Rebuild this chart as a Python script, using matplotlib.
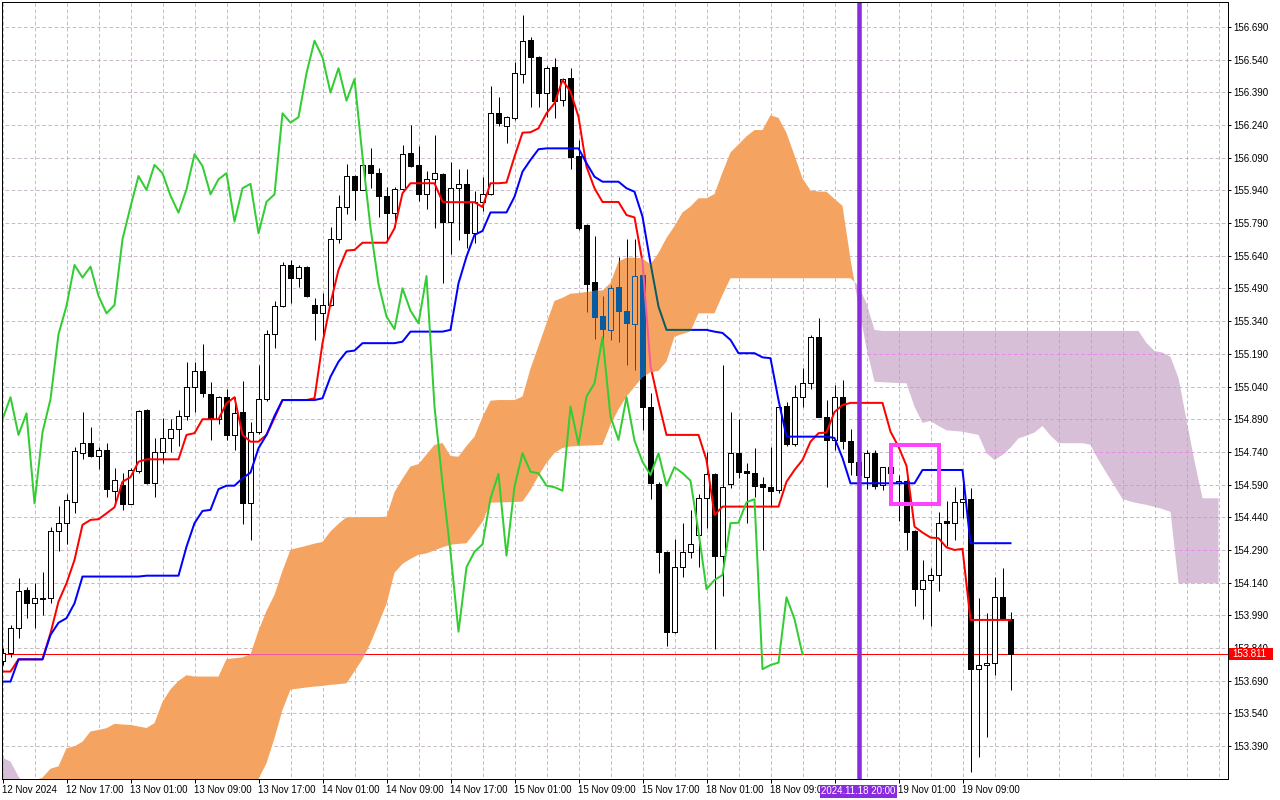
import numpy as np
import matplotlib
matplotlib.use("Agg")
import matplotlib.pyplot as plt
from matplotlib.path import Path
from matplotlib.patches import PathPatch, Rectangle
from matplotlib.collections import LineCollection, PolyCollection
from matplotlib.transforms import blended_transform_factory

plt.rcParams['font.family'] = ['Liberation Sans', 'DejaVu Sans']
plt.rcParams['lines.scale_dashes'] = False

# ---------------- data (H1, 12 Nov 09:00 .. 19 Nov 15:00) ----------------
open_ = [153.780, 153.816, 153.934, 154.107, 154.045, 154.066, 154.068, 154.377, 154.413, 154.512,
         154.737, 154.780, 154.723, 154.749, 154.562, 154.588, 154.501, 154.654, 154.933, 154.599,
         154.738, 154.803, 154.844, 154.906, 155.039, 155.111, 155.005, 154.890, 154.991, 154.818,
         154.922, 154.504, 154.830, 154.982, 155.280, 155.410, 155.598, 155.540, 155.590, 155.414,
         155.376, 155.414, 155.716, 155.865, 156.006, 155.942, 156.057, 156.019, 155.916, 155.835,
         155.945, 156.110, 156.057, 155.922, 155.991, 156.016, 155.797, 155.950, 155.970, 155.743,
         155.888, 155.922, 156.294, 156.237, 156.271, 156.474, 156.630, 156.551, 156.389, 156.505,
         156.355, 156.455, 156.098, 155.781, 155.519, 155.364, 155.300, 155.496, 155.387, 155.326,
         155.552, 154.948, 154.593, 154.280, 153.915, 154.211, 154.282, 154.359, 154.527, 154.639,
         154.264, 154.592, 154.734, 154.653, 154.642, 154.593, 154.578, 154.565, 154.951, 154.775,
         154.994, 155.055, 155.266, 154.899, 154.795, 154.991, 154.790, 154.695, 154.624, 154.734,
         154.588, 154.670, 154.599, 154.608, 154.377, 154.110, 154.152, 154.175, 154.423, 154.415,
         154.509, 154.523, 153.743, 153.762, 153.770, 154.073, 153.972]
high_ = [153.840, 153.945, 154.160, 154.122, 154.137, 154.190, 154.397, 154.492, 154.547, 154.764,
         154.922, 154.856, 154.764, 154.780, 154.665, 154.645, 154.665, 154.933, 154.939, 154.803,
         154.897, 154.890, 154.933, 155.153, 155.154, 155.235, 155.062, 154.997, 155.027, 154.991,
         155.066, 154.879, 155.139, 155.300, 155.433, 155.613, 155.621, 155.598, 155.595, 155.445,
         155.471, 155.771, 155.919, 156.061, 156.010, 156.060, 156.133, 156.042, 155.957, 155.957,
         156.149, 156.240, 156.144, 156.031, 156.194, 156.020, 156.072, 156.037, 156.037, 155.939,
         156.003, 156.419, 156.367, 156.280, 156.531, 156.745, 156.643, 156.555, 156.511, 156.546,
         156.455, 156.503, 156.171, 155.785, 155.731, 155.456, 155.506, 155.636, 155.716, 155.716,
         155.590, 155.009, 154.604, 154.285, 154.339, 154.413, 154.474, 154.547, 154.741, 154.645,
         155.139, 154.922, 154.891, 154.688, 154.757, 154.624, 154.764, 154.971, 154.971, 155.047,
         155.124, 155.277, 155.353, 154.978, 155.047, 155.070, 154.844, 154.720, 154.749, 154.749,
         154.670, 154.700, 154.634, 154.614, 154.380, 154.244, 154.206, 154.466, 154.516, 154.581,
         154.626, 154.573, 154.068, 153.999, 154.167, 154.206, 154.004]
low_ = [153.760, 153.800, 153.885, 153.977, 153.931, 153.992, 154.048, 154.287, 154.318, 154.458,
        154.706, 154.718, 154.660, 154.535, 154.504, 154.474, 154.501, 154.645, 154.593, 154.535,
        154.688, 154.741, 154.769, 154.887, 154.923, 154.994, 154.795, 154.868, 154.795, 154.749,
        154.409, 154.336, 154.820, 154.975, 155.218, 155.407, 155.425, 155.498, 155.450, 155.254,
        155.266, 155.410, 155.700, 155.832, 155.804, 155.940, 155.950, 155.817, 155.713, 155.774,
        155.940, 156.049, 155.892, 155.855, 155.769, 155.517, 155.648, 155.713, 155.675, 155.697,
        155.847, 155.920, 156.236, 156.156, 156.263, 156.432, 156.324, 156.322, 156.278, 156.271,
        156.328, 156.037, 155.759, 155.384, 155.257, 155.211, 155.254, 155.246, 155.139, 155.116,
        154.841, 154.524, 154.183, 153.851, 153.908, 154.168, 154.252, 154.213, 154.390, 153.834,
        154.080, 154.576, 154.619, 154.413, 154.535, 154.290, 154.489, 154.550, 154.769, 154.769,
        154.948, 155.027, 154.900, 154.578, 154.749, 154.752, 154.634, 154.600, 154.569, 154.569,
        154.565, 154.625, 154.424, 154.290, 154.033, 153.972, 153.941, 154.103, 154.308, 154.336,
        154.436, 153.273, 153.341, 153.433, 153.716, 153.970, 153.648]
close_ = [153.817, 153.930, 154.102, 154.045, 154.068, 154.070, 154.377, 154.413, 154.520, 154.744,
          154.783, 154.723, 154.749, 154.570, 154.611, 154.501, 154.657, 154.928, 154.599, 154.738,
          154.803, 154.844, 154.906, 155.037, 155.111, 155.009, 154.890, 154.991, 154.818, 154.917,
          154.504, 154.830, 154.982, 155.280, 155.410, 155.598, 155.540, 155.590, 155.456, 155.376,
          155.414, 155.716, 155.865, 156.006, 155.942, 156.057, 156.019, 155.916, 155.838, 155.945,
          156.106, 156.052, 155.922, 155.991, 156.019, 155.797, 155.950, 155.970, 155.743, 155.888,
          155.922, 156.294, 156.251, 156.276, 156.478, 156.627, 156.551, 156.389, 156.501, 156.352,
          156.451, 156.095, 155.769, 155.511, 155.361, 155.303, 155.491, 155.388, 155.330, 155.547,
          154.948, 154.596, 154.280, 153.915, 154.211, 154.282, 154.316, 154.527, 154.639, 154.264,
          154.581, 154.734, 154.649, 154.642, 154.585, 154.578, 154.562, 154.948, 154.775, 154.994,
          155.055, 155.266, 154.902, 154.795, 154.991, 154.792, 154.695, 154.634, 154.734, 154.585,
          154.670, 154.643, 154.608, 154.374, 154.110, 154.152, 154.175, 154.413, 154.415, 154.509,
          154.523, 153.743, 153.762, 153.773, 154.073, 153.973, 153.811]

tenkan = [153.732, 153.732, 153.788, 153.788, 153.788, 153.788, 153.908, 154.053, 154.137, 154.244,
          154.405, 154.428, 154.431, 154.458, 154.486, 154.603, 154.624, 154.695, 154.706, 154.706,
          154.706, 154.706, 154.706, 154.818, 154.826, 154.890, 154.890, 154.890, 154.963, 154.991,
          154.818, 154.787, 154.787, 154.818, 154.896, 154.978, 154.978, 154.978, 154.978, 154.986,
          155.239, 155.422, 155.575, 155.664, 155.667, 155.700, 155.700, 155.700, 155.700, 155.766,
          155.927, 155.973, 155.973, 155.973, 155.973, 155.888, 155.886, 155.886, 155.886, 155.886,
          155.864, 155.973, 155.973, 155.976, 156.095, 156.205, 156.207, 156.225, 156.294, 156.340,
          156.447, 156.393, 156.278, 156.049, 155.950, 155.887, 155.887, 155.887, 155.827, 155.816,
          155.612, 155.134, 154.969, 154.818, 154.818, 154.818, 154.818, 154.818, 154.703, 154.450,
          154.489, 154.489, 154.489, 154.489, 154.489, 154.489, 154.489, 154.489, 154.603, 154.657,
          154.703, 154.787, 154.826, 154.829, 154.923, 154.955, 154.965, 154.965, 154.965, 154.965,
          154.965, 154.833, 154.764, 154.676, 154.397, 154.370, 154.347, 154.344, 154.302, 154.290,
          154.295, 153.969, 153.969, 153.969, 153.969, 153.969, 153.969]
kijun = [153.686, 153.686, 153.788, 153.788, 153.788, 153.788, 153.900, 153.956, 153.977, 154.045,
         154.168, 154.168, 154.168, 154.168, 154.168, 154.168, 154.168, 154.168, 154.172, 154.172,
         154.172, 154.172, 154.172, 154.305, 154.413, 154.469, 154.474, 154.569, 154.585, 154.585,
         154.619, 154.645, 154.757, 154.818, 154.905, 154.978, 154.978, 154.978, 154.978, 154.978,
         154.986, 155.085, 155.154, 155.200, 155.205, 155.239, 155.239, 155.239, 155.239, 155.239,
         155.246, 155.292, 155.292, 155.292, 155.292, 155.292, 155.300, 155.514, 155.636, 155.736,
         155.754, 155.839, 155.839, 155.839, 155.911, 156.026, 156.080, 156.129, 156.133, 156.133,
         156.133, 156.133, 156.133, 156.065, 156.003, 155.980, 155.980, 155.980, 155.950, 155.934,
         155.820, 155.606, 155.407, 155.300, 155.300, 155.300, 155.300, 155.300, 155.300, 155.292,
         155.286, 155.254, 155.193, 155.193, 155.193, 155.174, 155.170, 154.978, 154.810, 154.810,
         154.810, 154.810, 154.810, 154.810, 154.804, 154.712, 154.596, 154.596, 154.596, 154.596,
         154.596, 154.596, 154.596, 154.596, 154.596, 154.657, 154.657, 154.657, 154.657, 154.657,
         154.657, 154.321, 154.321, 154.321, 154.321, 154.321, 154.321]

# Senkou spans, already displaced 26 bars forward (bars 0..152)
span_a = [153.160, 153.180, 153.200, 153.215, 153.232, 153.245, 153.286, 153.297, 153.380, 153.389,
          153.410, 153.457, 153.464, 153.472, 153.492, 153.489, 153.487, 153.480, 153.473, 153.495,
          153.593, 153.650, 153.689, 153.715, 153.709, 153.709, 153.709, 153.709, 153.789, 153.793,
          153.797, 153.811, 153.919, 154.010, 154.084, 154.194, 154.291, 154.300, 154.309, 154.319,
          154.327, 154.375, 154.410, 154.440, 154.441, 154.441, 154.441, 154.441, 154.443, 154.555,
          154.617, 154.673, 154.684, 154.728, 154.772, 154.781, 154.721, 154.718, 154.767, 154.810,
          154.900, 154.975, 154.978, 154.978, 154.978, 154.994, 155.122, 155.226, 155.330, 155.433,
          155.447, 155.466, 155.469, 155.474, 155.479, 155.481, 155.515, 155.614, 155.631, 155.632,
          155.628, 155.600, 155.653, 155.722, 155.776, 155.839, 155.866, 155.904, 155.904, 155.923,
          156.023, 156.114, 156.151, 156.188, 156.217, 156.217, 156.285, 156.273, 156.204, 156.101,
          155.995, 155.940, 155.935, 155.934, 155.901, 155.869, 155.625, 155.410, 155.217, 155.062,
          155.060, 155.058, 155.056, 155.055, 154.948, 154.873, 154.882, 154.859, 154.839, 154.836,
          154.833, 154.825, 154.818, 154.734, 154.703, 154.726, 154.759, 154.802, 154.814, 154.829,
          154.859, 154.815, 154.780, 154.780, 154.780, 154.780, 154.773, 154.703, 154.643, 154.584,
          154.524, 154.512, 154.504, 154.497, 154.488, 154.478, 154.465, 154.137, 154.137, 154.137,
          154.137, 154.137, 154.137]
span_b = [153.336, 153.319, 153.250, 153.200, 153.200, 153.200, 153.200, 153.200, 153.200, 153.200,
          153.200, 153.200, 153.200, 153.200, 153.200, 153.200, 153.200, 153.200, 153.200, 153.200,
          153.200, 153.200, 153.200, 153.200, 153.200, 153.200, 153.200, 153.200, 153.200, 153.200,
          153.200, 153.200, 153.239, 153.311, 153.426, 153.556, 153.649, 153.654, 153.659, 153.663,
          153.666, 153.671, 153.674, 153.678, 153.733, 153.789, 153.862, 153.951, 154.042, 154.185,
          154.226, 154.249, 154.268, 154.274, 154.288, 154.302, 154.314, 154.318, 154.321, 154.368,
          154.419, 154.507, 154.508, 154.509, 154.510, 154.512, 154.565, 154.630, 154.689, 154.735,
          154.758, 154.765, 154.767, 154.769, 154.770, 154.772, 154.864, 154.935, 154.994, 155.038,
          155.084, 155.105, 155.112, 155.155, 155.269, 155.281, 155.293, 155.376, 155.376, 155.376,
          155.460, 155.537, 155.537, 155.537, 155.537, 155.537, 155.537, 155.537, 155.537, 155.537,
          155.537, 155.537, 155.537, 155.537, 155.537, 155.537, 155.537, 155.503, 155.422, 155.300,
          155.295, 155.295, 155.295, 155.295, 155.295, 155.295, 155.295, 155.295, 155.295, 155.295,
          155.295, 155.295, 155.295, 155.295, 155.295, 155.295, 155.295, 155.295, 155.295, 155.295,
          155.295, 155.295, 155.295, 155.295, 155.295, 155.295, 155.295, 155.295, 155.295, 155.295,
          155.295, 155.295, 155.295, 155.240, 155.203, 155.196, 155.176, 155.079, 154.887, 154.698,
          154.527, 154.527, 154.527]

price_ticks = [153.390, 153.540, 153.690, 153.840, 153.990, 154.140, 154.290, 154.440, 154.590,
               154.740, 154.890, 155.040, 155.190, 155.340, 155.490, 155.640, 155.790, 155.940,
               156.090, 156.240, 156.390, 156.540, 156.690]
time_tick_bars = [0, 8, 16, 24, 32, 40, 48, 56, 64, 72, 80, 88, 96, 104, 112, 120]
# the 18 Nov 17:00 label (bar 104) is covered by the vertical line's time label
time_tick_labels = ["12 Nov 2024", "12 Nov 17:00", "13 Nov 01:00", "13 Nov 09:00", "13 Nov 17:00",
                    "14 Nov 01:00", "14 Nov 09:00", "14 Nov 17:00", "15 Nov 01:00", "15 Nov 09:00",
                    "15 Nov 17:00", "18 Nov 01:00", "18 Nov 09:00", "", "19 Nov 01:00",
                    "19 Nov 09:00"]
chikou_shift = 26
vline_bar = 107
vline_label = "2024.11.18 20:00"
box_bars = (111, 117)
box_prices = (154.500, 154.770)
bid = close_[-1]

# ---------------- colours ----------------
C_ORANGE = '#f4a460'
C_THISTLE = '#d8bfd8'
C_GRID = '#bcaabc'
C_GRID_IN_THISTLE = '#f07cf0'
C_XOR_DARK = '#0b5b9f'   # black seen through the orange cloud
C_XOR_RED = '#f45b9f'
C_XOR_BLUE = '#0b5b60'

PX = 72.0 / 100.0  # points per pixel

n = len(close_)
bars = np.arange(n)
fbars = np.arange(len(span_a))
sa = np.array(span_a)
sb = np.array(span_b)

fig = plt.figure(figsize=(12.8, 8), dpi=100)
fig.patch.set_facecolor('white')
ax = fig.add_axes([2 / 1280, 21 / 800, 1226 / 1280, 777 / 800])
x0 = -0.5 / 8
ax.set_xlim(x0, x0 + 1226 / 8)
ax.set_ylim(153.2389, 156.8047)
ax.set_facecolor('white')
for s in ax.spines.values():
    s.set_color('black')
    s.set_linewidth(1 * PX)
    s.set_zorder(9)


def grid(color, z, clip=None):
    segs = [[(gx, 150.0), (gx, 160.0)] for gx in range(0, len(span_a), 4)]
    segs += [[(-5, gy), (200, gy)] for gy in price_ticks]
    lc = LineCollection(segs, colors=color, linewidths=0.8 * PX, linestyles=[(0, (2.6, 1.8))], zorder=z)
    ax.add_collection(lc)
    if clip is not None:
        lc.set_clip_path(clip)


def candles(edge, up_face, dn_face, z, clip=None):
    hw = 0.29
    wick = LineCollection([[(i, l), (i, h)] for i, (l, h) in enumerate(zip(low_, high_))],
                          colors=edge, linewidths=1 * PX, zorder=z)
    ups, dns = [], []
    for i, (o, c) in enumerate(zip(open_, close_)):
        lo, hi = min(o, c), max(o, c)
        r = [(i - hw, lo), (i + hw, lo), (i + hw, hi), (i - hw, hi)]
        (ups if c >= o else dns).append(r)
    up = PolyCollection(ups, facecolors=up_face, edgecolors=edge, linewidths=1 * PX, zorder=z + 0.01)
    dn = PolyCollection(dns, facecolors=dn_face, edgecolors=edge, linewidths=1 * PX, zorder=z + 0.01)
    for a in (wick, up, dn):
        ax.add_collection(a)
        if clip is not None:
            a.set_clip_path(clip)


# base layer
grid(C_GRID, 1)
ax.axhline(bid, color='#ff0000', lw=1 * PX, zorder=2)
candles('black', 'white', 'black', 3)
ax.plot(bars, tenkan, color='#ff0000', lw=2 * PX, zorder=4)
ax.plot(bars, kijun, color='#0000ff', lw=2 * PX, zorder=4)

# cloud
orange = ax.fill_between(fbars, sa, sb, where=sa >= sb, interpolate=True,
                         facecolor=C_ORANGE, edgecolor='none', lw=0, zorder=5)
thistle = ax.fill_between(fbars, sa, sb, where=sb > sa, interpolate=True,
                          facecolor=C_THISTLE, edgecolor='none', lw=0, zorder=5)


def clip_patch(coll):
    paths = [p for p in coll.get_paths() if len(p.vertices)]
    cp = Path.make_compound_path(*paths)
    return PathPatch(cp, transform=ax.transData, facecolor='none', edgecolor='none')


orange_clip = clip_patch(orange)
thistle_clip = clip_patch(thistle)

# inverted look of what lies under the cloud
candles(C_XOR_DARK, C_ORANGE, C_XOR_DARK, 5.2, clip=orange_clip)
for arr, col in ((tenkan, C_XOR_RED), (kijun, C_XOR_BLUE)):
    ln, = ax.plot(bars, arr, color=col, lw=2 * PX, zorder=5.4)
    ln.set_clip_path(orange_clip)
bl = ax.axhline(bid, color=C_XOR_RED, lw=1 * PX, zorder=5.1)
bl.set_clip_path(orange_clip)
grid(C_GRID_IN_THISTLE, 5.1, clip=thistle_clip)

# chikou span (close displaced 26 bars back)
ax.plot(bars[:n - chikou_shift], close_[chikou_shift:], color='#32cd32', lw=2 * PX, zorder=6)

# objects
ax.axvline(vline_bar, color='#8a2be2', lw=4.5 * PX, zorder=7)
ax.add_patch(Rectangle((box_bars[0], box_prices[0]), box_bars[1] - box_bars[0],
                       box_prices[1] - box_prices[0], fill=False, edgecolor='#ff44ff',
                       lw=4 * PX, zorder=7, joinstyle='miter'))

# axes / ticks
ax.yaxis.tick_right()
ax.set_yticks(price_ticks)
ax.set_yticklabels([f"{v:.3f}" for v in price_ticks])
ax.tick_params(axis='y', direction='out', length=3 * PX, width=1 * PX, pad=1.5, labelsize=7,
               colors='black')
ax.set_xticks(time_tick_bars)
ax.set_xticklabels(time_tick_labels)
for lbl in ax.get_xticklabels():
    lbl.set_horizontalalignment('left')
ax.tick_params(axis='x', direction='out', length=4 * PX, width=1 * PX, pad=1.2, labelsize=7,
               colors='black')

# bid price label on the right scale
tr_y = blended_transform_factory(ax.transAxes, ax.transData)
ax.add_patch(Rectangle((1.0 + 1 / 1226, bid - 5.5 / 217.9), 44 / 1226, 11.5 / 217.9,
                       transform=tr_y, facecolor='#ff0000', edgecolor='none', clip_on=False, zorder=10))
ax.text(1.0 + 4 / 1226, bid, f"{bid:.3f}", transform=tr_y, color='white', fontsize=7,
        va='center', ha='left', clip_on=False, zorder=11)

# vertical line time label
tr_x = blended_transform_factory(ax.transData, ax.transAxes)
ax.text(vline_bar, -12.5 / 777, vline_label, transform=tr_x, color='white', fontsize=7,
        va='center', ha='center', clip_on=False, zorder=11,
        bbox=dict(boxstyle='square,pad=0.18', facecolor='#8a2be2', edgecolor='none'))

fig.savefig('out.png', dpi=100)
